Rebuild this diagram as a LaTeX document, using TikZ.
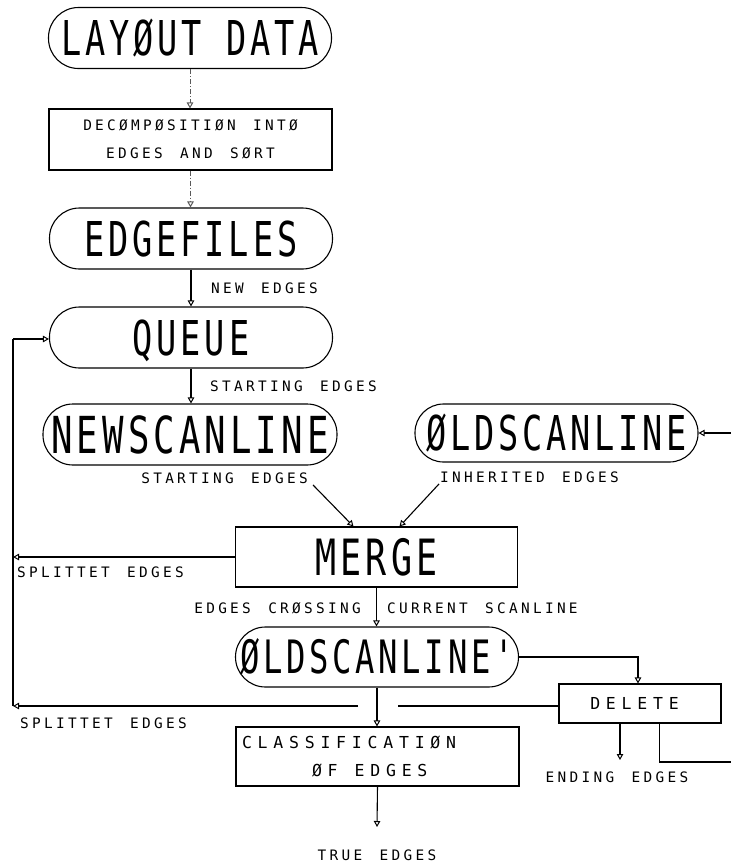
\documentclass[tikz,border=0pt]{standalone}
\usepackage{fontspec}
\newfontfamily\bigf{DejaVu Sans Mono}[FakeStretch=0.7,LetterSpace=8]
\newfontfamily\smf{DejaVu Sans Mono}[LetterSpace=23,WordSpace=1.45]
\newfontfamily\mdf{DejaVu Sans Mono}[LetterSpace=35,WordSpace=1.65]
\usetikzlibrary{arrows.meta,calc}
\begin{document}
\begin{tikzpicture}[x=1pt,y=-1pt,
  ln/.style={line width=1.1pt, black},
  arr/.style={ln, -{Triangle[open,length=6pt,width=6.5pt,line width=1pt]}},
  dsh/.style={arr, line width=0.8pt, black!65, dash pattern=on 5pt off 2pt on 1pt off 2pt},
  stad/.style={draw, line width=1.1pt, rounded corners=30pt, minimum width=283pt, minimum height=61pt,
    inner sep=0pt, font=\bigf\fontsize{48}{50}\selectfont, text height=35pt, text depth=0pt},
  boxr/.style={draw, line width=1.1pt, inner sep=0pt},
  lab/.style={inner sep=0pt, font=\smf\fontsize{14.4}{16}\selectfont, text height=10.5pt, text depth=0pt},
]
\useasboundingbox (0,0) rectangle (731,865);

% main nodes
\node[stad] (layout) at (190,38) {LAYØUT DATA};
\node[boxr, minimum width=283pt, minimum height=61pt, align=center,
      font=\smf\fontsize{14.4}{28}\selectfont] (decomp) at (190.5,139.5)
      {DECØMPØSITIØN INTØ\\EDGES AND SØRT};
\node[stad] (edgef) at (191,238.5) {EDGEFILES};
\node[stad] (queue) at (191,337.5) {QUEUE};
\node[stad, minimum width=294pt, font=\bigf\fontsize{51}{53}\selectfont, text height=37pt] (newsc) at (190,434.5) {NEWSCANLINE};
\node[stad, minimum height=58pt, rounded corners=28.5pt] (oldsc) at (556.5,433) {ØLDSCANLINE};
\node[boxr, minimum width=282pt, minimum height=60pt,
      font=\bigf\fontsize{50}{52}\selectfont, text height=36.5pt, text depth=0pt] (merge) at (376.5,557) {MERGE};
\node[stad, minimum height=60pt, font=\bigf\fontsize{46}{48}\selectfont, text height=33.5pt] (oldsc2) at (377,657) {ØLDSCANLINE'};
\node[boxr, minimum width=162pt, minimum height=39pt,
      font=\mdf\fontsize{16.5}{18}\selectfont, text height=12pt, text depth=0pt] (delete) at (640,703.5) {DELETE\hspace*{11pt}};
\node[boxr, minimum height=59pt, inner xsep=6pt, text width=271pt, align=left,
      font=\mdf\fontsize{16.5}{28}\selectfont] (classif) at (377.5,756.5)
      {CLASSIFICATIØN\\\hspace*{70pt}ØF\hspace*{17pt}EDGES};

% labels
\node[lab, anchor=west] (lnew) at (211,288) {NEW EDGES};
\node[lab, anchor=west] (lstart1) at (210,386) {STARTING EDGES};
\node[lab, anchor=east] (lstart2) at (308,478) {STARTING EDGES};
\node[lab, anchor=west] (linh) at (440,477) {INHERITED EDGES};
\node[lab, anchor=west] (lsplit1) at (17,572) {SPLITTET EDGES};
\node[lab, anchor=east] (lcross) at (361,608) {EDGES CRØSSING};
\node[lab, anchor=west] (lcurr) at (387,608) {CURRENT SCANLINE};
\node[lab, anchor=west] (lsplit2) at (20,723) {SPLITTET EDGES};
\node[lab] (lend) at (617,777) {ENDING EDGES};
\node[lab] (ltrue) at (377,855) {TRUE EDGES};

% free-end coordinates
\coordinate (c1) at (13,339);
\coordinate (sp1) at (13,557);
\coordinate (sp2) at (13,706);
\coordinate (gapL) at (358,706);
\coordinate (gapR) at (398,706);
\coordinate (oin) at (731,433);
\coordinate (dr) at (731,762);
\coordinate (de) at (620,760);
\coordinate (te) at (377,827);

% vertical chain
\draw[dsh] (layout.south) -- (layout.south |- decomp.north);
\draw[dsh] (decomp.south) -- (decomp.south |- edgef.north);
\draw[arr] (edgef.south) -- (edgef.south |- queue.north);
\draw[arr] (queue.south) -- (queue.south |- newsc.north);
\draw[arr] ($(lstart2.south east)+(5,1.5)$) -- ($(merge.north)+(-23,0)$);
\draw[arr] ($(linh.south west)+(-1,1.5)$) -- ($(merge.north)+(23,0)$);
\draw[arr] (oin) -- (oldsc.east);
\draw[arr] (merge.south) -- (merge.south |- oldsc2.north);
\draw[arr] (oldsc2.south) -- (oldsc2.south |- classif.north);
\draw[arr] (classif.south |- te) ++(0,-41) -- (te);

% feedback to queue
\draw[arr] (merge.west) -- (sp1);
\draw[ln] (delete.west |- gapR) -- (gapR);
\draw[arr] (gapL) -- (sp2);
\draw[ln] (sp2) -- (c1);
\draw[arr] (c1) -- (c1 -| queue.west);

% delete branch
\draw[arr] (oldsc2.east) -| (delete.north -| 638,0);
\draw[arr] (delete.south -| de) -- (de);
\draw[ln] ($(delete.south west)+(101,0)$) |- (dr);
\end{tikzpicture}
\end{document}
